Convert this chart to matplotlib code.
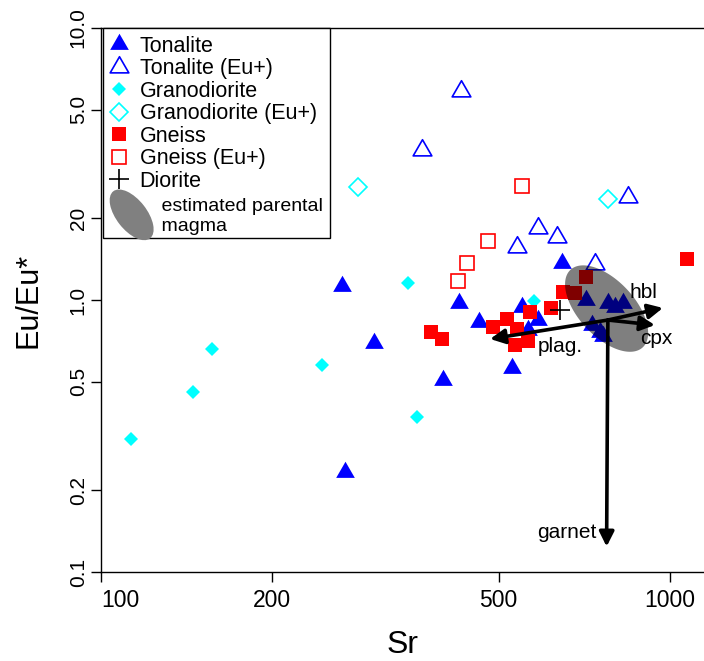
import numpy as np
import matplotlib
matplotlib.use("Agg")
import matplotlib.pyplot as plt
from matplotlib.lines import Line2D
from matplotlib.patches import Ellipse
from matplotlib.path import Path
from matplotlib.legend_handler import HandlerPatch
from matplotlib.ticker import NullLocator

plt.rcParams["font.family"] = ["Liberation Sans", "DejaVu Sans"]

# Sr (ppm) vs Eu/Eu* by rock group
tonalite_sr = [265, 302, 268, 399, 426, 462, 528, 550, 586, 563, 646, 712, 778, 827, 800, 729, 754, 763]
tonalite_eu = [1.13, 0.695, 0.233, 0.508, 0.975, 0.83, 0.562, 0.942, 0.844, 0.775, 1.37, 1.0, 0.975, 0.977, 0.942, 0.808, 0.762, 0.738]

tonalite_pos_sr = [429, 367, 844, 539, 586, 633, 739]
tonalite_pos_eu = [5.87, 3.56, 2.39, 1.57, 1.84, 1.70, 1.36]

grano_sr = [346, 157, 145, 113, 245, 359, 577]
grano_eu = [1.155, 0.66, 0.459, 0.308, 0.577, 0.371, 0.992]

grano_pos_sr = [283, 212, 778]
grano_pos_eu = [2.60, 1.89, 2.35]

gneiss_sr = [380, 398, 489, 517, 534, 539, 563, 568, 618, 649, 681, 712, 1071]
gneiss_eu = [0.763, 0.719, 0.796, 0.851, 0.684, 0.782, 0.707, 0.904, 0.935, 1.07, 1.06, 1.215, 1.415]

gneiss_pos_sr = [550, 479, 440, 424]
gneiss_pos_eu = [2.63, 1.65, 1.37, 1.175]

diorite_sr = [641]
diorite_eu = [0.919]

# parental magma estimate and fractionation vectors
magma_sr, magma_eu = 774, 0.93
vec_origin = (778, 0.844)
vec_names = ["plag.", "hbl", "cpx", "garnet"]
vec_end_sr = [483, 972, 941, 774]
vec_end_eu = [0.719, 0.935, 0.809, 0.124]
vec_label_sr = [641, 897, 948, 744]
vec_label_eu = [0.677, 1.07, 0.719, 0.140]

fig = plt.figure(figsize=(7.04, 6.61), dpi=100)
ax = fig.add_axes([101 / 704, 1 - 572 / 661, 603 / 704, 544 / 661])
ax.set_xscale("log")
ax.set_yscale("log")
ax.set_xlim(100, 1148)
ax.set_ylim(0.1, 10)

# equilateral triangle, centred on its centroid
triangle = Path([(-1, -0.577), (1, -0.577), (0, 1.155), (-1, -0.577)],
                [Path.MOVETO, Path.LINETO, Path.LINETO, Path.CLOSEPOLY])
tri = dict(marker=triangle, linestyle="none", ms=15.5)
filled_tri = dict(color="#0000ff", mew=0, **tri)
open_tri = dict(mfc="none", mec="#0000ff", mew=1.2, **tri)
filled_dia = dict(marker="D", ls="none", color="#00ffff", ms=7, mew=0)
open_dia = dict(marker="D", ls="none", mfc="none", mec="#00ffff", ms=9, mew=1.2)
filled_sq = dict(marker="s", ls="none", color="#ff0000", ms=10.5, mew=0)
open_sq = dict(marker="s", ls="none", mfc="none", mec="#ff0000", ms=10, mew=1.2)
cross = dict(marker="+", ls="none", color="black", ms=14, mew=1.2)

ax.plot(tonalite_sr, tonalite_eu, **filled_tri)
ax.plot(tonalite_pos_sr, tonalite_pos_eu, **open_tri)
ax.plot(grano_sr, grano_eu, **filled_dia)
ax.plot(grano_pos_sr, grano_pos_eu, **open_dia)
ax.plot(gneiss_sr, gneiss_eu, **filled_sq)
ax.plot(gneiss_pos_sr, gneiss_pos_eu, **open_sq)
ax.plot(diorite_sr, diorite_eu, **cross)

# tilted ellipse for the parental magma, built in pixel space
cx, cy = ax.transData.transform((magma_sr, magma_eu))
t = np.linspace(0, 2 * np.pi, 200)
a, b, ang = 53, 28, np.deg2rad(-47)
ex = cx + a * np.cos(t) * np.cos(ang) - b * np.sin(t) * np.sin(ang)
ey = cy + a * np.cos(t) * np.sin(ang) + b * np.sin(t) * np.cos(ang)
pts = ax.transData.inverted().transform(np.column_stack([ex, ey]))
ax.fill(pts[:, 0], pts[:, 1], color="black", alpha=0.5, lw=0, zorder=3)

for name, sx, sy, lx, ly in zip(vec_names, vec_end_sr, vec_end_eu, vec_label_sr, vec_label_eu):
    ax.annotate("", xy=(sx, sy), xytext=vec_origin,
                arrowprops=dict(arrowstyle="-|>", color="black", lw=2.6,
                                mutation_scale=22, shrinkA=0, shrinkB=0),
                zorder=4)
    ax.text(lx, ly, name, fontsize=15, ha="right" if name == "garnet" else "center",
            va="center", zorder=5)

ax.set_xticks([100, 200, 500, 1000], labels=["100", "200", "500", "1000"])
ax.set_yticks([0.1, 0.2, 0.5, 1, 2, 5, 10],
              labels=["0.1", "0.2", "0.5", "1.0", "20", "5.0", "10.0"])
ax.xaxis.set_minor_locator(NullLocator())
ax.yaxis.set_minor_locator(NullLocator())
ax.tick_params(direction="out", length=7, width=1)
ax.tick_params(axis="x", labelsize=16.5, pad=5)
ax.tick_params(axis="y", labelsize=15, pad=2.5, labelrotation=90)
for lab in ax.get_yticklabels():
    lab.set_va("center")
ax.get_xticklabels()[0].set_ha("left")
ax.spines["right"].set_visible(False)
for s in ["left", "bottom", "top"]:
    ax.spines[s].set_linewidth(1)

ax.set_xlabel("Sr", fontsize=23)
ax.set_ylabel("Eu/Eu*", fontsize=22)
ax.xaxis.set_label_coords(0.5, -0.107)
ax.yaxis.set_label_coords(-0.095, 0.5)


class HandlerEllipse(HandlerPatch):
    def create_artists(self, legend, orig_handle, xdescent, ydescent,
                       width, height, fontsize, trans):
        center = (0.5 * width - xdescent + 9, 0.5 * height - ydescent - 3)
        p = Ellipse(xy=center, width=43, height=22, angle=-52)
        self.update_prop(p, orig_handle, legend)
        p.set_transform(trans)
        return [p]


handles = [
    Line2D([], [], **filled_tri),
    Line2D([], [], **open_tri),
    Line2D([], [], **filled_dia),
    Line2D([], [], **open_dia),
    Line2D([], [], **filled_sq),
    Line2D([], [], **open_sq),
    Line2D([], [], **cross),
    Ellipse((0, 0), 1, 1, facecolor="#808080", edgecolor="none"),
]
labels = ["Tonalite", "Tonalite (Eu+)", "Granodiorite", "Granodiorite (Eu+)",
          "Gneiss", "Gneiss (Eu+)", "Diorite",
          "    estimated parental\n    magma"]
leg = ax.legend(handles, labels, loc="upper left", bbox_to_anchor=(2 / 603, 1.0),
                borderaxespad=0, fontsize=15.5, frameon=True, fancybox=False,
                edgecolor="black", framealpha=1, handlelength=0.8,
                handletextpad=0.55, labelspacing=0.07, borderpad=0.35,
                handler_map={Ellipse: HandlerEllipse()})
leg.get_frame().set_linewidth(1)
magma_text = leg.get_texts()[-1]
magma_text.set_fontsize(14)
magma_text.set_linespacing(1.25)
magma_text.set_y(-5)

fig.savefig("out.png", dpi=100)
